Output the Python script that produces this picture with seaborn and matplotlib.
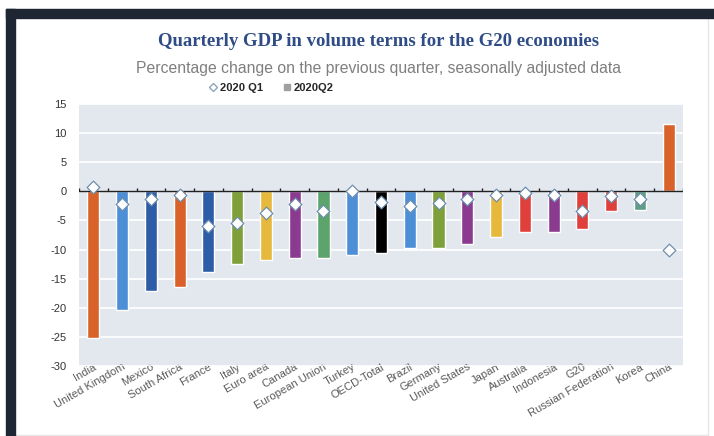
import matplotlib
matplotlib.use("Agg")
import matplotlib.pyplot as plt
from matplotlib.patches import Rectangle
from matplotlib.lines import Line2D
import seaborn as sns
import pandas as pd

categories = ["India", "United Kingdom", "Mexico", "South Africa", "France", "Italy",
              "Euro area", "Canada", "European Union", "Turkey", "OECD-Total", "Brazil",
              "Germany", "United States", "Japan", "Australia", "Indonesia", "G20",
              "Russian Federation", "Korea", "China"]
q2_2020 = [-25.2, -20.4, -17.1, -16.4, -13.8, -12.4, -11.8, -11.5, -11.4, -11.0, -10.6,
           -9.7, -9.7, -9.1, -7.8, -7.0, -7.0, -6.5, -3.4, -3.2, 11.5]
q1_2020 = [0.8, -2.2, -1.3, -0.6, -5.9, -5.4, -3.7, -2.1, -3.3, 0.0, -1.8,
           -2.5, -2.0, -1.3, -0.6, -0.3, -0.7, -3.4, -0.8, -1.3, -10.0]
bar_colors = ["#D9622B", "#4D8FD6", "#2D5DA6", "#D9622B", "#2D5DA6", "#7EA03A",
              "#E6B83C", "#8B3B8F", "#5CA36C", "#4D8FD6", "#000000", "#4D8FD6",
              "#7EA03A", "#8B3B8F", "#E6B83C", "#E0403C", "#8B3B8F", "#E0403C",
              "#E0403C", "#5F9E86", "#D9622B"]
y_ticks = [-30, -25, -20, -15, -10, -5, 0, 5, 10, 15]

df = pd.DataFrame({"country": categories, "q2": q2_2020, "q1": q1_2020})

sns.set_style("white")
plt.rcParams["font.family"] = ["Liberation Sans", "DejaVu Sans"]

fig = plt.figure(figsize=(7.14, 4.36), dpi=100)
fig.patch.set_facecolor("white")
ax = fig.add_axes([79 / 714, 1 - 366 / 436, (683 - 79) / 714, (366 - 104) / 436])
ax.set_facecolor("#E3E8EF")

sns.barplot(data=df, x="country", y="q2", hue="country", palette=bar_colors,
            legend=False, width=0.42, ax=ax, saturation=1, zorder=3)
sns.scatterplot(data=df, x="country", y="q1", marker="D", s=42, color="white",
                edgecolor="#6E8FAE", linewidth=0.9, ax=ax, zorder=5)

ax.set_ylim(-30, 15)
ax.set_xlim(-0.5, len(categories) - 0.5)
ax.set_yticks(y_ticks)
ax.set_yticklabels([str(t) for t in y_ticks])
for t in y_ticks:
    if t != 0:
        ax.axhline(t, color="white", lw=1.2, zorder=1)
ax.set_xlabel("")
ax.set_ylabel("")
for s in ax.spines.values():
    s.set_visible(False)
ax.tick_params(axis="y", length=0, pad=9, labelsize=8, labelcolor="#333333")
ax.tick_params(axis="x", length=0, pad=-3, labelsize=8, labelcolor="#5A5A5A")
plt.setp(ax.get_xticklabels(), rotation=30, ha="right", rotation_mode="anchor")

# zero line with small upward ticks at category boundaries
ax.axhline(0, color="#222222", lw=1.0, zorder=4)
boundaries = [i + 0.5 for i in range(-1, len(categories))]
ax.vlines(boundaries, 0, 0.55, color="#222222", lw=1.0, zorder=4)

fig.text(0.53, 1 - 42 / 436, "Quarterly GDP in volume terms for the G20 economies",
         ha="center", va="center", fontsize=13.5, fontweight="bold",
         family=["Liberation Serif"], color="#2F4C86")
fig.text(0.53, 1 - 68 / 436, "Percentage change on the previous quarter, seasonally adjusted data",
         ha="center", va="center", fontsize=11.3, color="#7F7F7F")

handles = [Line2D([], [], marker="D", markersize=4, markerfacecolor="white",
                  markeredgecolor="#8FA5BA", linestyle="none"),
           Line2D([], [], marker="s", markersize=5, markerfacecolor="#A0A0A0",
                  markeredgecolor="#A0A0A0", linestyle="none")]
fig.legend(handles, ["2020 Q1", "2020Q2"], loc="center", bbox_to_anchor=(0.38, 1 - 88 / 436),
           ncol=2, frameon=False, handletextpad=0.2, columnspacing=1.8, handlelength=0.8,
           prop={"weight": "bold", "size": 8})

# frame decoration
dark = "#1E2633"
fig.patches.append(Rectangle((6 / 714, 1 - 18 / 436), 708 / 714, 9 / 436,
                             transform=fig.transFigure, color=dark, zorder=10))
fig.patches.append(Rectangle((6 / 714, 0), 9 / 714, 1 - 9 / 436,
                             transform=fig.transFigure, color=dark, zorder=10))
fig.add_artist(Line2D([708 / 714, 708 / 714], [0, 1 - 18 / 436], transform=fig.transFigure,
                      color="#E6E6E6", lw=1))
fig.add_artist(Line2D([15 / 714, 708 / 714], [1 / 436, 1 / 436], transform=fig.transFigure,
                      color="#E6E6E6", lw=1))

fig.savefig("out.png", dpi=100)
